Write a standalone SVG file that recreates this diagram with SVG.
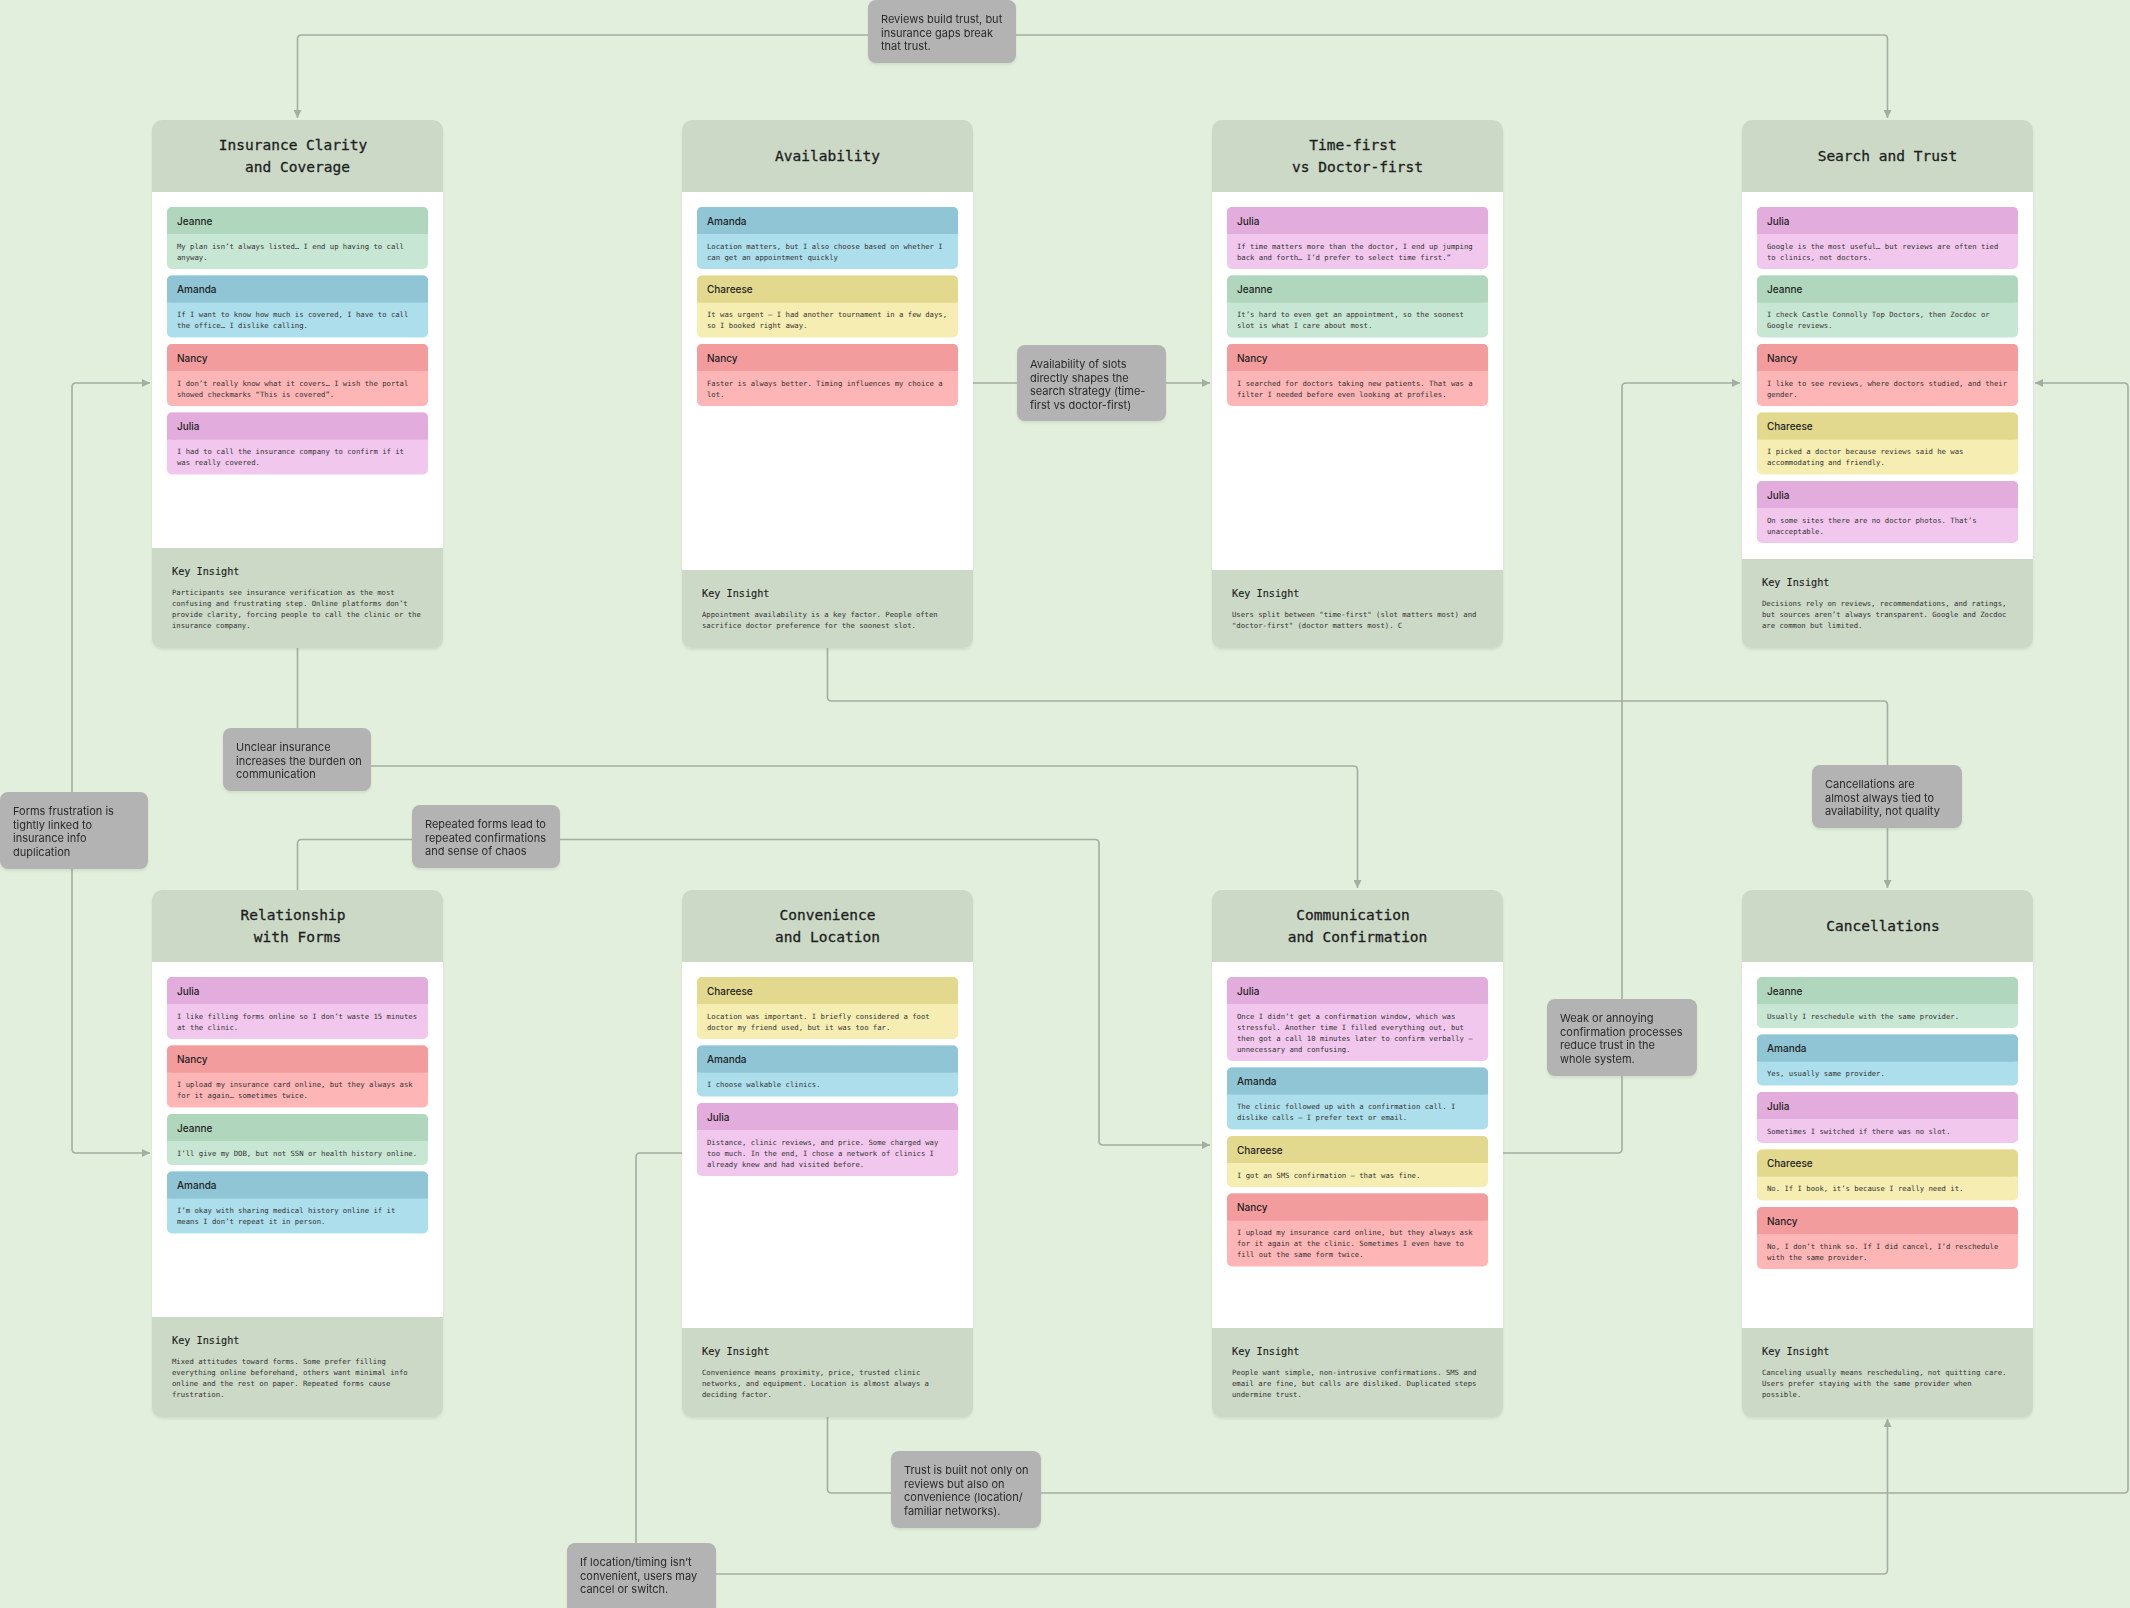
<svg xmlns="http://www.w3.org/2000/svg" width="2130" height="1608" viewBox="0 0 2130 1608">
<style>
.bg{fill:#e2efdc}
.card-bg{fill:#cbd9c6}
.card-body{fill:#ffffff}
.title{font-family:"DejaVu Sans Mono",monospace;font-size:14.5px;fill:#1e1e1e;stroke:#1e1e1e;stroke-width:0.3;text-anchor:middle}
.name{font-family:Inter,"Noto Sans",sans-serif;font-size:10px;font-weight:500;fill:#1e1e1e}
.q{font-family:"DejaVu Sans Mono",monospace;font-size:7.25px;fill:#333333}
.kh{font-family:"DejaVu Sans Mono",monospace;font-size:10.2px;fill:#1e1e1e;stroke:#1e1e1e;stroke-width:0.15}
.note{fill:#b3b3b3}
.nt{font-family:Inter,"Noto Sans",sans-serif;font-size:11px;fill:#2a2a2a}
.conn{fill:none;stroke:#a4ada1;stroke-width:1.6}
.jb{fill:#b0d7bd}.jq{fill:#c7e6d4}
.ab{fill:#8fc5d5}.aq{fill:#addeec}
.nb{fill:#f39c9d}.nq{fill:#fdb5b6}
.ub{fill:#e2acdc}.uq{fill:#f2c7ee}
.cb{fill:#e3d98e}.cq{fill:#f6edb2}
</style>
<defs>
<marker id="arr" viewBox="0 0 10 10" refX="10" refY="5" markerWidth="9" markerHeight="8" markerUnits="userSpaceOnUse" orient="auto-start-reverse">
<path d="M0,0 L10,5 L0,10 z" fill="#a4ada1"/>
</marker>
<filter id="sh" x="-5%" y="-5%" width="110%" height="115%">
<feDropShadow dx="0" dy="2" stdDeviation="1.2" flood-color="#7d8a78" flood-opacity="0.18"/>
</filter>
</defs>
<rect class="bg" width="2130" height="1608"/>

<g id="connectors">
<path class="conn" d="M297.5,118 V39 Q297.5,35 301.5,35 H1883.5 Q1887.5,35 1887.5,39 V118" marker-start="url(#arr)" marker-end="url(#arr)"/>
<path class="conn" d="M973,383 H1210" marker-end="url(#arr)"/>
<path class="conn" d="M297.5,648 V762 Q297.5,766 301.5,766 H1353.5 Q1357.5,766 1357.5,770 V888" marker-end="url(#arr)"/>
<path class="conn" d="M827.5,648 V697 Q827.5,701 831.5,701 H1883.5 Q1887.5,701 1887.5,705 V888" marker-end="url(#arr)"/>
<path class="conn" d="M150,383 H76 Q72,383 72,387 V1149 Q72,1153 76,1153 H150" marker-start="url(#arr)" marker-end="url(#arr)"/>
<path class="conn" d="M297.5,890 V843.5 Q297.5,839.5 301.5,839.5 H1095 Q1099,839.5 1099,843.5 V1141 Q1099,1145 1103,1145 H1210" marker-end="url(#arr)"/>
<path class="conn" d="M1503,1153 H1618 Q1622,1153 1622,1149 V387 Q1622,383 1626,383 H1740" marker-end="url(#arr)"/>
<path class="conn" d="M827.5,1417 V1489 Q827.5,1493 831.5,1493 H2124 Q2128,1493 2128,1489 V387 Q2128,383 2124,383 H2035" marker-end="url(#arr)"/>
<path class="conn" d="M682,1153 H640 Q636,1153 636,1157 V1570 Q636,1574 640,1574 H1883.5 Q1887.5,1574 1887.5,1570 V1419" marker-end="url(#arr)"/>

<g id="label-reviews" filter="url(#sh)"><rect class="note" x="868" y="0" width="148" height="63" rx="8"/>
<text class="nt" x="881" y="23">Reviews build trust, but<tspan x="881" dy="13.5">insurance gaps break</tspan><tspan x="881" dy="13.5">that trust.</tspan></text></g>
<g id="label-slots" filter="url(#sh)"><rect class="note" x="1017" y="345" width="149" height="76" rx="8"/>
<text class="nt" x="1030" y="368">Availability of slots<tspan x="1030" dy="13.5">directly shapes the</tspan><tspan x="1030" dy="13.5">search strategy (time-</tspan><tspan x="1030" dy="13.5">first vs doctor-first)</tspan></text></g>
<g id="label-unclear" filter="url(#sh)"><rect class="note" x="223" y="728" width="148" height="63" rx="8"/>
<text class="nt" x="236" y="751">Unclear insurance<tspan x="236" dy="13.5">increases the burden on</tspan><tspan x="236" dy="13.5">communication</tspan></text></g>
<g id="label-forms" filter="url(#sh)"><rect class="note" x="0" y="792" width="148" height="77" rx="8"/>
<text class="nt" x="13" y="815">Forms frustration is<tspan x="13" dy="13.5">tightly linked to</tspan><tspan x="13" dy="13.5">insurance info</tspan><tspan x="13" dy="13.5">duplication</tspan></text></g>
<g id="label-repeated" filter="url(#sh)"><rect class="note" x="412" y="805" width="148" height="63" rx="8"/>
<text class="nt" x="425" y="828">Repeated forms lead to<tspan x="425" dy="13.5">repeated confirmations</tspan><tspan x="425" dy="13.5">and sense of chaos</tspan></text></g>
<g id="label-cancel" filter="url(#sh)"><rect class="note" x="1812" y="765" width="150" height="63" rx="8"/>
<text class="nt" x="1825" y="788">Cancellations are<tspan x="1825" dy="13.5">almost always tied to</tspan><tspan x="1825" dy="13.5">availability, not quality</tspan></text></g>
<g id="label-weak" filter="url(#sh)"><rect class="note" x="1547" y="999" width="150" height="77" rx="8"/>
<text class="nt" x="1560" y="1022">Weak or annoying<tspan x="1560" dy="13.5">confirmation processes</tspan><tspan x="1560" dy="13.5">reduce trust in the</tspan><tspan x="1560" dy="13.5">whole system.</tspan></text></g>
<g id="label-trust" filter="url(#sh)"><rect class="note" x="891" y="1451" width="150" height="77" rx="8"/>
<text class="nt" x="904" y="1474">Trust is built not only on<tspan x="904" dy="13.5">reviews but also on</tspan><tspan x="904" dy="13.5">convenience (location/</tspan><tspan x="904" dy="13.5">familiar networks).</tspan></text></g>
<g id="label-location" filter="url(#sh)"><rect class="note" x="567" y="1543" width="149" height="72" rx="8"/>
<text class="nt" x="580" y="1566">If location/timing isn’t<tspan x="580" dy="13.5">convenient, users may</tspan><tspan x="580" dy="13.5">cancel or switch.</tspan></text></g>
</g>

<!-- Card 1 -->
<g id="card-insurance" transform="translate(152,120)">
<rect class="card-bg" width="291" height="528" rx="10" filter="url(#sh)"/>
<rect class="card-body" y="72" width="291" height="356"/>
<text class="title" x="141" y="30">Insurance Clarity</text>
<text class="title" x="145.5" y="52">and Coverage</text>
<g transform="translate(15,87)"><rect class="jq" width="261" height="62" rx="5"/><rect class="jb" width="261" height="27" rx="5"/><rect class="jb" y="20" width="261" height="7"/>
<text class="name" x="10" y="17.5">Jeanne</text><text class="q" x="10" y="41.5">My plan isn’t always listed… I end up having to call<tspan x="10" dy="11">anyway.</tspan></text></g>
<g transform="translate(15,155.5)"><rect class="aq" width="261" height="62" rx="5"/><rect class="ab" width="261" height="27" rx="5"/><rect class="ab" y="20" width="261" height="7"/>
<text class="name" x="10" y="17.5">Amanda</text><text class="q" x="10" y="41.5">If I want to know how much is covered, I have to call<tspan x="10" dy="11">the office… I dislike calling.</tspan></text></g>
<g transform="translate(15,224)"><rect class="nq" width="261" height="62" rx="5"/><rect class="nb" width="261" height="27" rx="5"/><rect class="nb" y="20" width="261" height="7"/>
<text class="name" x="10" y="17.5">Nancy</text><text class="q" x="10" y="41.5">I don’t really know what it covers… I wish the portal<tspan x="10" dy="11">showed checkmarks “This is covered”.</tspan></text></g>
<g transform="translate(15,292.5)"><rect class="uq" width="261" height="62" rx="5"/><rect class="ub" width="261" height="27" rx="5"/><rect class="ub" y="20" width="261" height="7"/>
<text class="name" x="10" y="17.5">Julia</text><text class="q" x="10" y="41.5">I had to call the insurance company to confirm if it<tspan x="10" dy="11">was really covered.</tspan></text></g>
<text class="kh" x="20" y="455">Key Insight</text>
<text class="q" x="20" y="475">Participants see insurance verification as the most<tspan x="20" dy="11">confusing and frustrating step. Online platforms don’t</tspan><tspan x="20" dy="11">provide clarity, forcing people to call the clinic or the</tspan><tspan x="20" dy="11">insurance company.</tspan></text>
</g>

<!-- Card 2 -->
<g id="card-availability" transform="translate(682,120)">
<rect class="card-bg" width="291" height="528" rx="10" filter="url(#sh)"/>
<rect class="card-body" y="72" width="291" height="378"/>
<text class="title" x="145.5" y="40.5">Availability</text>
<g transform="translate(15,87)"><rect class="aq" width="261" height="62" rx="5"/><rect class="ab" width="261" height="27" rx="5"/><rect class="ab" y="20" width="261" height="7"/>
<text class="name" x="10" y="17.5">Amanda</text><text class="q" x="10" y="41.5">Location matters, but I also choose based on whether I<tspan x="10" dy="11">can get an appointment quickly</tspan></text></g>
<g transform="translate(15,155.5)"><rect class="cq" width="261" height="62" rx="5"/><rect class="cb" width="261" height="27" rx="5"/><rect class="cb" y="20" width="261" height="7"/>
<text class="name" x="10" y="17.5">Chareese</text><text class="q" x="10" y="41.5">It was urgent – I had another tournament in a few days,<tspan x="10" dy="11">so I booked right away.</tspan></text></g>
<g transform="translate(15,224)"><rect class="nq" width="261" height="62" rx="5"/><rect class="nb" width="261" height="27" rx="5"/><rect class="nb" y="20" width="261" height="7"/>
<text class="name" x="10" y="17.5">Nancy</text><text class="q" x="10" y="41.5">Faster is always better. Timing influences my choice a<tspan x="10" dy="11">lot.</tspan></text></g>
<text class="kh" x="20" y="477">Key Insight</text>
<text class="q" x="20" y="497">Appointment availability is a key factor. People often<tspan x="20" dy="11">sacrifice doctor preference for the soonest slot.</tspan></text>
</g>

<!-- Card 3 -->
<g id="card-timefirst" transform="translate(1212,120)">
<rect class="card-bg" width="291" height="528" rx="10" filter="url(#sh)"/>
<rect class="card-body" y="72" width="291" height="378"/>
<text class="title" x="141" y="30">Time-first</text>
<text class="title" x="145.5" y="52">vs Doctor-first</text>
<g transform="translate(15,87)"><rect class="uq" width="261" height="62" rx="5"/><rect class="ub" width="261" height="27" rx="5"/><rect class="ub" y="20" width="261" height="7"/>
<text class="name" x="10" y="17.5">Julia</text><text class="q" x="10" y="41.5">If time matters more than the doctor, I end up jumping<tspan x="10" dy="11">back and forth… I’d prefer to select time first.”</tspan></text></g>
<g transform="translate(15,155.5)"><rect class="jq" width="261" height="62" rx="5"/><rect class="jb" width="261" height="27" rx="5"/><rect class="jb" y="20" width="261" height="7"/>
<text class="name" x="10" y="17.5">Jeanne</text><text class="q" x="10" y="41.5">It’s hard to even get an appointment, so the soonest<tspan x="10" dy="11">slot is what I care about most.</tspan></text></g>
<g transform="translate(15,224)"><rect class="nq" width="261" height="62" rx="5"/><rect class="nb" width="261" height="27" rx="5"/><rect class="nb" y="20" width="261" height="7"/>
<text class="name" x="10" y="17.5">Nancy</text><text class="q" x="10" y="41.5">I searched for doctors taking new patients. That was a<tspan x="10" dy="11">filter I needed before even looking at profiles.</tspan></text></g>
<text class="kh" x="20" y="477">Key Insight</text>
<text class="q" x="20" y="497">Users split between "time-first" (slot matters most) and<tspan x="20" dy="11">"doctor-first" (doctor matters most). C</tspan></text>
</g>

<!-- Card 4 -->
<g id="card-search" transform="translate(1742,120)">
<rect class="card-bg" width="291" height="528" rx="10" filter="url(#sh)"/>
<rect class="card-body" y="72" width="291" height="367"/>
<text class="title" x="145.5" y="40.5">Search and Trust</text>
<g transform="translate(15,87)"><rect class="uq" width="261" height="62" rx="5"/><rect class="ub" width="261" height="27" rx="5"/><rect class="ub" y="20" width="261" height="7"/>
<text class="name" x="10" y="17.5">Julia</text><text class="q" x="10" y="41.5">Google is the most useful… but reviews are often tied<tspan x="10" dy="11">to clinics, not doctors.</tspan></text></g>
<g transform="translate(15,155.5)"><rect class="jq" width="261" height="62" rx="5"/><rect class="jb" width="261" height="27" rx="5"/><rect class="jb" y="20" width="261" height="7"/>
<text class="name" x="10" y="17.5">Jeanne</text><text class="q" x="10" y="41.5">I check Castle Connolly Top Doctors, then Zocdoc or<tspan x="10" dy="11">Google reviews.</tspan></text></g>
<g transform="translate(15,224)"><rect class="nq" width="261" height="62" rx="5"/><rect class="nb" width="261" height="27" rx="5"/><rect class="nb" y="20" width="261" height="7"/>
<text class="name" x="10" y="17.5">Nancy</text><text class="q" x="10" y="41.5">I like to see reviews, where doctors studied, and their<tspan x="10" dy="11">gender.</tspan></text></g>
<g transform="translate(15,292.5)"><rect class="cq" width="261" height="62" rx="5"/><rect class="cb" width="261" height="27" rx="5"/><rect class="cb" y="20" width="261" height="7"/>
<text class="name" x="10" y="17.5">Chareese</text><text class="q" x="10" y="41.5">I picked a doctor because reviews said he was<tspan x="10" dy="11">accommodating and friendly.</tspan></text></g>
<g transform="translate(15,361)"><rect class="uq" width="261" height="62" rx="5"/><rect class="ub" width="261" height="27" rx="5"/><rect class="ub" y="20" width="261" height="7"/>
<text class="name" x="10" y="17.5">Julia</text><text class="q" x="10" y="41.5">On some sites there are no doctor photos. That’s<tspan x="10" dy="11">unacceptable.</tspan></text></g>
<text class="kh" x="20" y="466">Key Insight</text>
<text class="q" x="20" y="486">Decisions rely on reviews, recommendations, and ratings,<tspan x="20" dy="11">but sources aren’t always transparent. Google and Zocdoc</tspan><tspan x="20" dy="11">are common but limited.</tspan></text>
</g>

<!-- Card 5 -->
<g id="card-forms" transform="translate(152,890)">
<rect class="card-bg" width="291" height="527" rx="10" filter="url(#sh)"/>
<rect class="card-body" y="72" width="291" height="355"/>
<text class="title" x="141" y="30">Relationship</text>
<text class="title" x="145.5" y="52">with Forms</text>
<g transform="translate(15,87)"><rect class="uq" width="261" height="62" rx="5"/><rect class="ub" width="261" height="27" rx="5"/><rect class="ub" y="20" width="261" height="7"/>
<text class="name" x="10" y="17.5">Julia</text><text class="q" x="10" y="41.5">I like filling forms online so I don’t waste 15 minutes<tspan x="10" dy="11">at the clinic.</tspan></text></g>
<g transform="translate(15,155.5)"><rect class="nq" width="261" height="62" rx="5"/><rect class="nb" width="261" height="27" rx="5"/><rect class="nb" y="20" width="261" height="7"/>
<text class="name" x="10" y="17.5">Nancy</text><text class="q" x="10" y="41.5">I upload my insurance card online, but they always ask<tspan x="10" dy="11">for it again… sometimes twice.</tspan></text></g>
<g transform="translate(15,224)"><rect class="jq" width="261" height="51" rx="5"/><rect class="jb" width="261" height="27" rx="5"/><rect class="jb" y="20" width="261" height="7"/>
<text class="name" x="10" y="17.5">Jeanne</text><text class="q" x="10" y="41.5">I’ll give my DOB, but not SSN or health history online.</text></g>
<g transform="translate(15,281.5)"><rect class="aq" width="261" height="62" rx="5"/><rect class="ab" width="261" height="27" rx="5"/><rect class="ab" y="20" width="261" height="7"/>
<text class="name" x="10" y="17.5">Amanda</text><text class="q" x="10" y="41.5">I’m okay with sharing medical history online if it<tspan x="10" dy="11">means I don’t repeat it in person.</tspan></text></g>
<text class="kh" x="20" y="454">Key Insight</text>
<text class="q" x="20" y="474">Mixed attitudes toward forms. Some prefer filling<tspan x="20" dy="11">everything online beforehand, others want minimal info</tspan><tspan x="20" dy="11">online and the rest on paper. Repeated forms cause</tspan><tspan x="20" dy="11">frustration.</tspan></text>
</g>

<!-- Card 6 -->
<g id="card-convenience" transform="translate(682,890)">
<rect class="card-bg" width="291" height="527" rx="10" filter="url(#sh)"/>
<rect class="card-body" y="72" width="291" height="366"/>
<text class="title" x="145.5" y="30">Convenience</text>
<text class="title" x="145.5" y="52">and Location</text>
<g transform="translate(15,87)"><rect class="cq" width="261" height="62" rx="5"/><rect class="cb" width="261" height="27" rx="5"/><rect class="cb" y="20" width="261" height="7"/>
<text class="name" x="10" y="17.5">Chareese</text><text class="q" x="10" y="41.5">Location was important. I briefly considered a foot<tspan x="10" dy="11">doctor my friend used, but it was too far.</tspan></text></g>
<g transform="translate(15,155.5)"><rect class="aq" width="261" height="51" rx="5"/><rect class="ab" width="261" height="27" rx="5"/><rect class="ab" y="20" width="261" height="7"/>
<text class="name" x="10" y="17.5">Amanda</text><text class="q" x="10" y="41.5">I choose walkable clinics.</text></g>
<g transform="translate(15,213)"><rect class="uq" width="261" height="73" rx="5"/><rect class="ub" width="261" height="27" rx="5"/><rect class="ub" y="20" width="261" height="7"/>
<text class="name" x="10" y="17.5">Julia</text><text class="q" x="10" y="41.5">Distance, clinic reviews, and price. Some charged way<tspan x="10" dy="11">too much. In the end, I chose a network of clinics I</tspan><tspan x="10" dy="11">already knew and had visited before.</tspan></text></g>
<text class="kh" x="20" y="465">Key Insight</text>
<text class="q" x="20" y="485">Convenience means proximity, price, trusted clinic<tspan x="20" dy="11">networks, and equipment. Location is almost always a</tspan><tspan x="20" dy="11">deciding factor.</tspan></text>
</g>

<!-- Card 7 -->
<g id="card-communication" transform="translate(1212,890)">
<rect class="card-bg" width="291" height="527" rx="10" filter="url(#sh)"/>
<rect class="card-body" y="72" width="291" height="366"/>
<text class="title" x="141" y="30">Communication</text>
<text class="title" x="145.5" y="52">and Confirmation</text>
<g transform="translate(15,87)"><rect class="uq" width="261" height="84" rx="5"/><rect class="ub" width="261" height="27" rx="5"/><rect class="ub" y="20" width="261" height="7"/>
<text class="name" x="10" y="17.5">Julia</text><text class="q" x="10" y="41.5">Once I didn’t get a confirmation window, which was<tspan x="10" dy="11">stressful. Another time I filled everything out, but</tspan><tspan x="10" dy="11">then got a call 10 minutes later to confirm verbally –</tspan><tspan x="10" dy="11">unnecessary and confusing.</tspan></text></g>
<g transform="translate(15,177.5)"><rect class="aq" width="261" height="62" rx="5"/><rect class="ab" width="261" height="27" rx="5"/><rect class="ab" y="20" width="261" height="7"/>
<text class="name" x="10" y="17.5">Amanda</text><text class="q" x="10" y="41.5">The clinic followed up with a confirmation call. I<tspan x="10" dy="11">dislike calls – I prefer text or email.</tspan></text></g>
<g transform="translate(15,246)"><rect class="cq" width="261" height="51" rx="5"/><rect class="cb" width="261" height="27" rx="5"/><rect class="cb" y="20" width="261" height="7"/>
<text class="name" x="10" y="17.5">Chareese</text><text class="q" x="10" y="41.5">I got an SMS confirmation – that was fine.</text></g>
<g transform="translate(15,303.5)"><rect class="nq" width="261" height="73" rx="5"/><rect class="nb" width="261" height="27" rx="5"/><rect class="nb" y="20" width="261" height="7"/>
<text class="name" x="10" y="17.5">Nancy</text><text class="q" x="10" y="41.5">I upload my insurance card online, but they always ask<tspan x="10" dy="11">for it again at the clinic. Sometimes I even have to</tspan><tspan x="10" dy="11">fill out the same form twice.</tspan></text></g>
<text class="kh" x="20" y="465">Key Insight</text>
<text class="q" x="20" y="485">People want simple, non-intrusive confirmations. SMS and<tspan x="20" dy="11">email are fine, but calls are disliked. Duplicated steps</tspan><tspan x="20" dy="11">undermine trust.</tspan></text>
</g>

<!-- Card 8 -->
<g id="card-cancellations" transform="translate(1742,890)">
<rect class="card-bg" width="291" height="527" rx="10" filter="url(#sh)"/>
<rect class="card-body" y="72" width="291" height="366"/>
<text class="title" x="141" y="40.5">Cancellations</text>
<g transform="translate(15,87)"><rect class="jq" width="261" height="51" rx="5"/><rect class="jb" width="261" height="27" rx="5"/><rect class="jb" y="20" width="261" height="7"/>
<text class="name" x="10" y="17.5">Jeanne</text><text class="q" x="10" y="41.5">Usually I reschedule with the same provider.</text></g>
<g transform="translate(15,144.5)"><rect class="aq" width="261" height="51" rx="5"/><rect class="ab" width="261" height="27" rx="5"/><rect class="ab" y="20" width="261" height="7"/>
<text class="name" x="10" y="17.5">Amanda</text><text class="q" x="10" y="41.5">Yes, usually same provider.</text></g>
<g transform="translate(15,202)"><rect class="uq" width="261" height="51" rx="5"/><rect class="ub" width="261" height="27" rx="5"/><rect class="ub" y="20" width="261" height="7"/>
<text class="name" x="10" y="17.5">Julia</text><text class="q" x="10" y="41.5">Sometimes I switched if there was no slot.</text></g>
<g transform="translate(15,259.5)"><rect class="cq" width="261" height="51" rx="5"/><rect class="cb" width="261" height="27" rx="5"/><rect class="cb" y="20" width="261" height="7"/>
<text class="name" x="10" y="17.5">Chareese</text><text class="q" x="10" y="41.5">No. If I book, it’s because I really need it.</text></g>
<g transform="translate(15,317)"><rect class="nq" width="261" height="62" rx="5"/><rect class="nb" width="261" height="27" rx="5"/><rect class="nb" y="20" width="261" height="7"/>
<text class="name" x="10" y="17.5">Nancy</text><text class="q" x="10" y="41.5">No, I don’t think so. If I did cancel, I’d reschedule<tspan x="10" dy="11">with the same provider.</tspan></text></g>
<text class="kh" x="20" y="465">Key Insight</text>
<text class="q" x="20" y="485">Canceling usually means rescheduling, not quitting care.<tspan x="20" dy="11">Users prefer staying with the same provider when</tspan><tspan x="20" dy="11">possible.</tspan></text>
</g>
</svg>
